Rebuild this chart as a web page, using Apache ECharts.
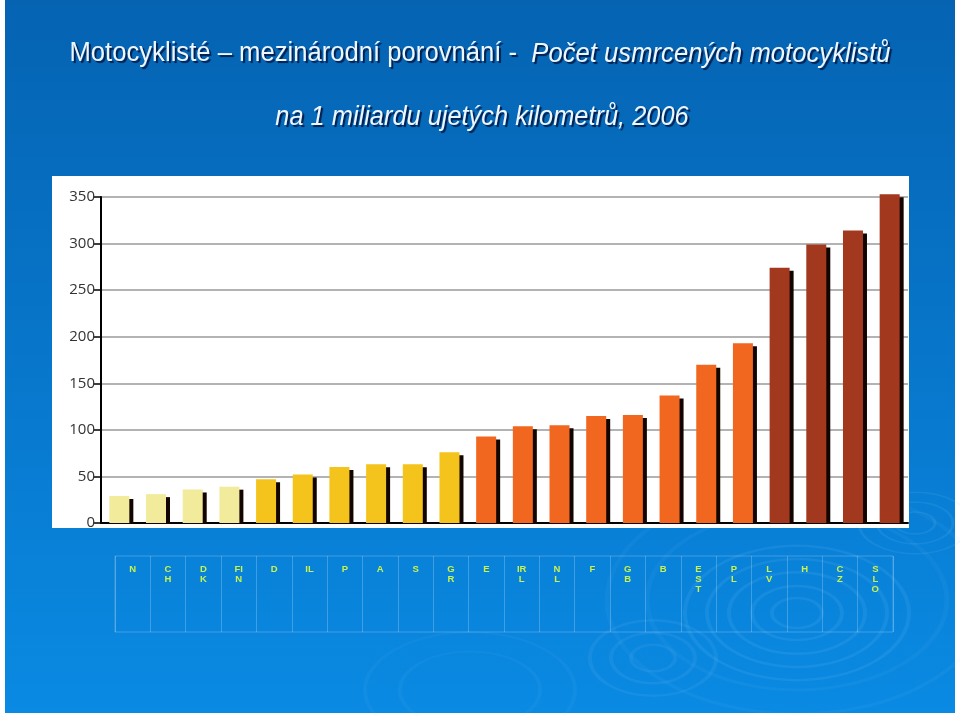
<!DOCTYPE html>
<html><head><meta charset="utf-8">
<script src="https://cdn.jsdelivr.net/npm/echarts@6/dist/echarts.min.js"></script>
<style>html,body{margin:0;padding:0;background:#fff}#c{width:960px;height:716px}</style>
</head><body><div id="c"></div>
<script>
// Data
const countries = ["N","CH","DK","FIN","D","IL","P","A","S","GR","E","IRL","NL","F","GB","B","EST","PL","LV","H","CZ","SLO"];
const tableLabels = ["N","C\nH","D\nK","FI\nN","D","IL","P","A","S","G\nR","E","IR\nL","N\nL","F","G\nB","B","E\nS\nT","P\nL","L\nV","H","C\nZ","S\nL\nO"];
const values = [29,31,36,39,47,52,60,63,63,76,93,104,105,115,116,137,170,193,274,299,314,353];
const colorGroups = ["pale","pale","pale","pale","gold","gold","gold","gold","gold","gold","orange","orange","orange","orange","orange","orange","orange","orange","brown","brown","brown","brown"];
const yTicks = [0,50,100,150,200,250,300,350];
const titleLine1a = 'Motocyklisté – mezinárodní porovnání -  ';
const titleLine1b = 'Počet usmrcených motocyklistů';
const titleLine2 = 'na 1 miliardu ujetých kilometrů, 2006';

const palette = {pale:"#f2eb9c", gold:"#f4c41c", orange:"#f2671f", brown:"#a2381d"};

const chart = echarts.init(document.getElementById('c'), null, {renderer:'canvas'});
const titleFont = "'Liberation Sans',Arial,sans-serif";
const tStyle = {fontFamily:titleFont, fontSize:27, fill:'#eef6ff',
  textShadowColor:'rgba(0,25,70,0.95)', textShadowOffsetX:2, textShadowOffsetY:2, textShadowBlur:1};

const rings = [];
function ripple(cx, cy, radii, sy, op, lw){
  radii.forEach(r => rings.push({type:'circle', z:-8, x:cx, y:cy, scaleY:sy, shape:{cx:0,cy:0,r:r},
    style:{fill:'none', stroke:'rgba(150,215,255,'+op+')', lineWidth:lw}, silent:true}));
}
ripple(797, 613, [25,45,68,90,112], 0.6, 0.10, 4);
ripple(797, 600, [150,190], 0.6, 0.05, 5);
ripple(653, 658, [22,42,63], 0.6, 0.09, 4);
ripple(915, 523, [20,38,56], 0.55, 0.10, 3);
ripple(470, 690, [70,105], 0.55, 0.05, 4);

chart.setOption({
  backgroundColor:'#ffffff',
  animation:false,
  graphic:[
    {type:'rect', z:-10, silent:true, shape:{x:5,y:0,width:950,height:713},
     style:{fill:new echarts.graphic.LinearGradient(0,0,0,1,[{offset:0,color:'#0563b2'},{offset:1,color:'#0a8ae3'}])}},
    ...rings,
    {type:'rect', z:-5, silent:true, shape:{x:52,y:176,width:857,height:352}, style:{fill:'#ffffff'}},
    {type:'rect', z:100, silent:true, shape:{x:103,y:524,width:806,height:4}, style:{fill:'#ffffff'}},
    {type:'text', z:50, x:480, y:54, scaleX:0.95, silent:true,
     style:Object.assign({}, tStyle, {text:'{a|'+titleLine1a+'}{b|'+titleLine1b+'}', align:'center', verticalAlign:'middle',
       rich:{a:Object.assign({}, tStyle, {fill:'#eef6ff'}), b:Object.assign({}, tStyle, {fill:'#eef6ff', fontStyle:'italic'})}})},
    {type:'text', z:50, x:482, y:117, scaleX:0.94, silent:true,
     style:Object.assign({}, tStyle, {text:titleLine2, fontStyle:'italic', align:'center', verticalAlign:'middle'})}
  ],
  grid:[
    {left:101, right:52, top:197, bottom:193},
    {left:115, width:778, top:556, height:76, show:true, borderColor:'rgba(255,255,255,0.22)', borderWidth:1, backgroundColor:'transparent'}
  ],
  xAxis:[
    {type:'category', gridIndex:0, data:countries, axisLabel:{show:false}, axisTick:{show:false},
     axisLine:{lineStyle:{color:'#000', width:2}}},
    {type:'category', gridIndex:1, data:tableLabels, position:'top', axisLine:{show:false}, axisTick:{show:false},
     splitLine:{show:true, interval:0, lineStyle:{color:'rgba(255,255,255,0.22)', width:1}},
     axisLabel:{inside:true, interval:0, margin:8, verticalAlign:'top', color:'#c8f24e', fontFamily:"'Liberation Sans', Arial, sans-serif",
       fontWeight:'bold', fontSize:9.5, lineHeight:10, align:'center'}}
  ],
  yAxis:[
    {type:'value', gridIndex:0, min:yTicks[0], max:yTicks[yTicks.length-1], interval:50,
     axisLine:{show:true, lineStyle:{color:'#000', width:2}},
     axisTick:{show:true, length:7, lineStyle:{color:'#000', width:1.5}},
     axisLabel:{color:'#333', fontSize:15, fontFamily:"'Open Sans','DejaVu Sans',sans-serif", margin:6},
     splitLine:{lineStyle:{color:'#9a9a9a', width:1.5}}},
    {type:'value', gridIndex:1, min:0, max:1, show:false, splitLine:{show:false}}
  ],
  series:[
    {type:'bar', xAxisIndex:0, yAxisIndex:0, barWidth:20, clip:false, z:3,
     data: values.map((v,i)=>({value:v, itemStyle:{color:palette[colorGroups[i]]}})),
     itemStyle:{shadowColor:'#120500', shadowOffsetX:4, shadowOffsetY:3, shadowBlur:0}}
  ]
});
</script></body></html>
